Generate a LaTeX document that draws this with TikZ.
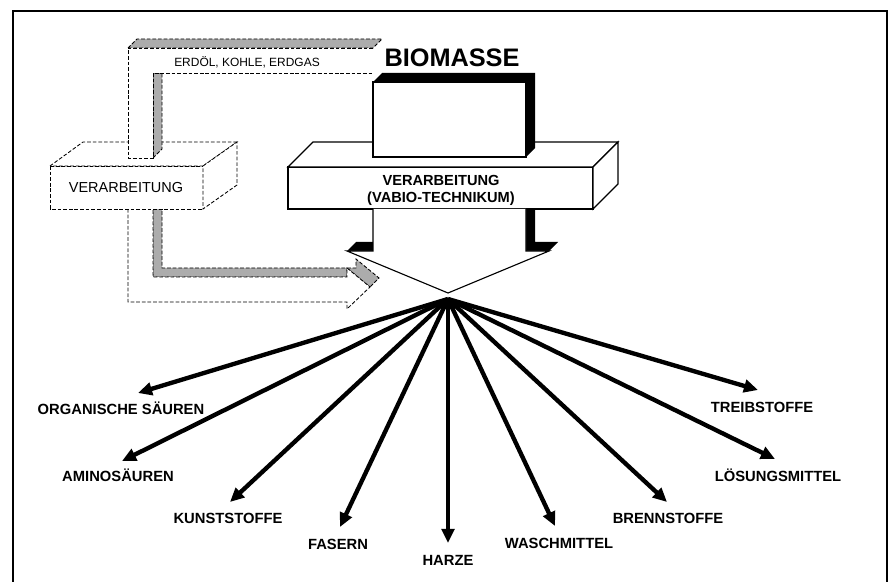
\documentclass[tikz,border=0pt]{standalone}
\usepackage{fontspec}
\setmainfont{Liberation Sans}
\usetikzlibrary{arrows.meta}

\tikzset{
  fossil/.style={dash pattern=on 2.6pt off 1.4pt, line width=0.6pt},
  solidbox/.style={line width=0.8pt, fill=white},
  fan/.style={line width=3.1pt, -{Triangle[length=10pt,width=9pt]}},
  prod/.style={font=\fontsize{10.5}{12}\selectfont\bfseries},
}

\begin{document}
\begin{tikzpicture}[x=0.025cm,y=-0.025cm]
	\useasboundingbox (0,0) rectangle (893,582);
	\draw[line width=1.2pt] (13,582) -- (13,11) -- (887,11) -- (887,582);
	% fossil route, lower part
	\draw[fossil,fill=gray!65] (153,209) -- (162,209) -- (162,268) -- (356,268) -- (356,259) -- (379,278) -- (370,287) -- (347,268) -- (347,277) -- (153,277) -- cycle;
	\draw[fossil,fill=white] (128,209) -- (128,302) -- (347,302) -- (347,309) -- (370,287) -- (347,268) -- (347,277) -- (153,277) -- (153,209);
	% left box
	\draw[fossil,fill=white] (50,166) rectangle (203,209);
	\draw[fossil,fill=white] (50,166) -- (83,142) -- (237,142) -- (203,166) -- cycle;
	\draw[fossil,fill=white] (203,166) -- (237,142) -- (237,185) -- (203,209) -- cycle;
	\node (verl) at (126,188) {\fontsize{10.3}{12}\selectfont VERARBEITUNG};
	% fossil route, upper part
	\draw[fossil,fill=gray!65] (128,48) -- (137,39) -- (382,39) -- (373,48) -- cycle;
	\draw[fossil,fill=gray!65] (153,158) -- (162,149) -- (162,73) -- (153,73) -- cycle;
	\fill[white] (128,48) rectangle (373,73);
	\fill[white] (128,48) rectangle (153,158);
	\draw[fossil] (373,48) -- (128,48) -- (128,158) -- (153,158) -- (153,73) -- (373,73);
	\node (fossil) at (247,62) {\fontsize{8.5}{10}\selectfont ERDÖL, KOHLE, ERDGAS};
	% VABIO bar
	\draw[solidbox] (288,167) rectangle (593,209);
	\draw[solidbox] (288,167) -- (313,142) -- (618,142) -- (593,167) -- cycle;
	\draw[solidbox] (593,167) -- (618,142) -- (618,184) -- (593,209) -- cycle;
	\node[align=center,font=\fontsize{10.4}{12}\selectfont\bfseries] (vabio) at (441,190) {VERARBEITUNG\\(VABIO-TECHNIKUM)};
	% biomass arrow
	\fill (373,82) -- (382,73) -- (535,73) -- (535,148) -- (526,157) -- (373,157) -- cycle;
	\draw[solidbox] (373,82) rectangle (526,157);
	\node[font=\fontsize{18}{20}\selectfont\bfseries] (bio) at (452,58) {BIOMASSE};
	\fill (526,209) -- (535,209) -- (535,242) -- (558,242) -- (549,251) -- (526,251) -- cycle;
	\fill (347,251) -- (356,242) -- (373,242) -- (373,251) -- cycle;
	\draw[solidbox] (373,209) -- (373,251) -- (347,251) -- (448,293) -- (549,251) -- (526,251) -- (526,209);
	% products
	\coordinate (apex) at (448,299);
	\foreach \n/\tx/\ty/\lx/\ly/\t in {orgs/138/393/121/408/ORGANISCHE SÄUREN,
		amino/122/461/118/475/AMINOSÄUREN, kunst/230/502/228/518/KUNSTSTOFFE,
		fasern/340/527/338/544/FASERN, harze/448/543/448/560/HARZE,
		wasch/555/526/559/543/WASCHMITTEL, brenn/667/502/668/518/BRENNSTOFFE,
		loes/775/459/778/475/LÖSUNGSMITTEL, treib/758/390/762/407/TREIBSTOFFE}{
		\node[prod] (\n) at (\lx,\ly) {\t};
		\coordinate (t-\n) at (\tx,\ty);
		\draw[fan] (apex) -- (t-\n);
	}
\end{tikzpicture}
\end{document}
